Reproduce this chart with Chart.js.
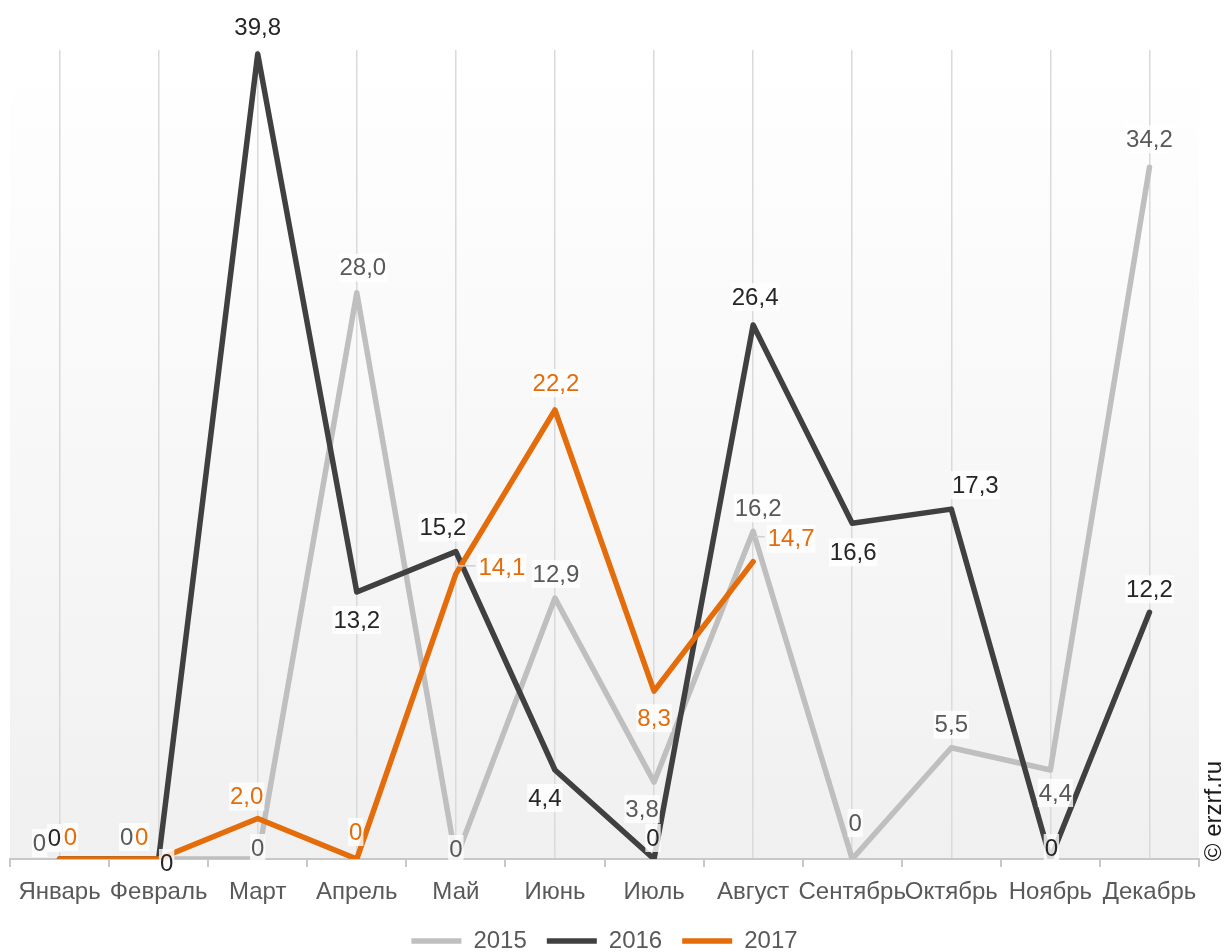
<!DOCTYPE html>
<html>
<head>
<meta charset="utf-8">
<script src="https://cdn.jsdelivr.net/npm/chart.js@4.4.1/dist/chart.umd.min.js"></script>
<style>
  html, body { margin: 0; padding: 0; background: #fff; }
  #wrap { width: 1226px; height: 952px; position: relative; }
</style>
</head>
<body>
<div id="wrap"><canvas id="chart" width="1226" height="952"></canvas></div>
<script>
const months = ['Январь', 'Февраль', 'Март', 'Апрель', 'Май', 'Июнь', 'Июль', 'Август', 'Сентябрь', 'Октябрь', 'Ноябрь', 'Декабрь'];
const values2015 = [0, 0, 0, 28.0, 0, 12.9, 3.8, 16.2, 0, 5.5, 4.4, 34.2];
const values2016 = [0, 0, 39.8, 13.2, 15.2, 4.4, 0, 26.4, 16.6, 17.3, 0, 12.2];
const values2017 = [0, 0, 2.0, 0, 14.1, 22.2, 8.3, 14.7];
const seriesNames = ['2015', '2016', '2017'];

// where each value label sits relative to its point (dx, dy in px)
const labelOffsets = [
    [[-20, -16], [-32, -22], [0, -11], [6, -25], [0, -10], [1, -24], [-12, 27], [5, -23], [3, -36], [0, -23], [5, 23], [0, -28]],
    [[-5, -21], [8, 4], [0, -27], [0, 28], [-13, -24], [-10, 28], [-1, -21], [2, -28], [1, 29], [24, -24], [1, -11], [0, -23]],
    [[11, -22], [-17, -22], [-11, -22], [-1, -27], [46, -6], [1, -27], [0, 27], [38, -23]]
];
const leaderLabels = { '2-4': true, '2-7': true };

const lineColors = ['#bfbfbf', '#404040', '#e46c0a'];
const labelColors = ['#595959', '#262626', '#e46c0a'];
const font = '"Liberation Sans", Arial, sans-serif';

function fmt(v) {
    return v === 0 ? '0' : v.toFixed(1).replace('.', ',');
}

const bgPlugin = {
    id: 'bg',
    beforeDraw(chart) {
        const { ctx, chartArea: a } = chart;
        const g = ctx.createLinearGradient(0, a.top, 0, a.bottom);
        g.addColorStop(0, '#ffffff');
        g.addColorStop(1, '#f0f0f0');
        ctx.save();
        ctx.fillStyle = g;
        ctx.fillRect(a.left, a.top, a.right - a.left, a.bottom - a.top);
        ctx.restore();
    }
};

const labelPlugin = {
    id: 'valueLabels',
    afterDatasetsDraw(chart) {
        const ctx = chart.ctx;
        ctx.save();
        ctx.font = '24px ' + font;
        ctx.textAlign = 'center';
        ctx.textBaseline = 'middle';
        chart.data.datasets.forEach((ds, di) => {
            const meta = chart.getDatasetMeta(di);
            meta.data.forEach((pt, i) => {
                const v = ds.data[i];
                if (v === null || v === undefined) return;
                const off = labelOffsets[di][i];
                const x = pt.x + off[0];
                const y = pt.y + off[1];
                const text = fmt(v);
                const w = ctx.measureText(text).width;
                if (leaderLabels[di + '-' + i]) {
                    ctx.strokeStyle = '#d0d0d0';
                    ctx.lineWidth = 1.5;
                    ctx.beginPath();
                    ctx.moveTo(pt.x + 2, y - 2);
                    ctx.lineTo(x - w / 2 - 3, y - 2);
                    ctx.stroke();
                }
                ctx.fillStyle = 'rgba(255,255,255,0.8)';
                ctx.fillRect(x - w / 2 - 1, y - 14, w + 2, 28);
                ctx.fillStyle = labelColors[di];
                ctx.fillText(text, x, y + 1);
            });
        });
        ctx.restore();
    },
    afterDraw(chart) {
        const ctx = chart.ctx;
        ctx.save();
        ctx.translate(1214, 811);
        ctx.rotate(-Math.PI / 2);
        ctx.font = '24px ' + font;
        ctx.fillStyle = '#1a1a1a';
        ctx.textAlign = 'center';
        ctx.textBaseline = 'middle';
        ctx.fillText('© erzrf.ru', 0, 0);
        ctx.restore();
    }
};

function series(i, data, order) {
    return {
        label: seriesNames[i],
        data: data,
        borderColor: lineColors[i],
        backgroundColor: lineColors[i],
        borderWidth: 5.5,
        borderCapStyle: 'round',
        borderJoinStyle: 'round',
        order: order
    };
}

new Chart(document.getElementById('chart'), {
    type: 'line',
    data: {
        labels: months,
        datasets: [
            series(0, values2015, 3),
            series(1, values2016, 2),
            series(2, values2017, 1)
        ]
    },
    options: {
        responsive: false,
        animation: false,
        devicePixelRatio: 1,
        layout: { padding: { left: 10, right: 27, top: 50, bottom: -11 } },
        elements: {
            line: { tension: 0, fill: false },
            point: { radius: 0, hoverRadius: 0 }
        },
        scales: {
            x: {
                offset: true,
                grid: { offset: true, drawOnChartArea: false, tickLength: 8, color: '#c8c8c8', lineWidth: 2 },
                border: { color: '#c8c8c8', width: 2 },
                ticks: {
                    autoSkip: false, maxRotation: 0, minRotation: 0, padding: 11,
                    color: '#595959', font: { family: font, size: 24 }
                },
                afterFit(scale) { scale.height = 50; }
            },
            x2: {
                position: 'top',
                offset: true,
                grid: { offset: false, drawTicks: false, color: '#dadada', lineWidth: 1.5 },
                border: { display: false },
                ticks: { display: false },
                afterFit(scale) { scale.height = 0; }
            },
            y: { display: false, min: 0, max: 40 }
        },
        plugins: {
            legend: {
                position: 'bottom',
                labels: {
                    usePointStyle: true,
                    pointStyle: 'line',
                    pointStyleWidth: 50,
                    padding: 20,
                    color: '#595959',
                    font: { family: font, size: 24 },
                    sort: (a, b) => a.datasetIndex - b.datasetIndex
                }
            },
            tooltip: { enabled: false }
        }
    },
    plugins: [bgPlugin, labelPlugin]
});
</script>
</body>
</html>
